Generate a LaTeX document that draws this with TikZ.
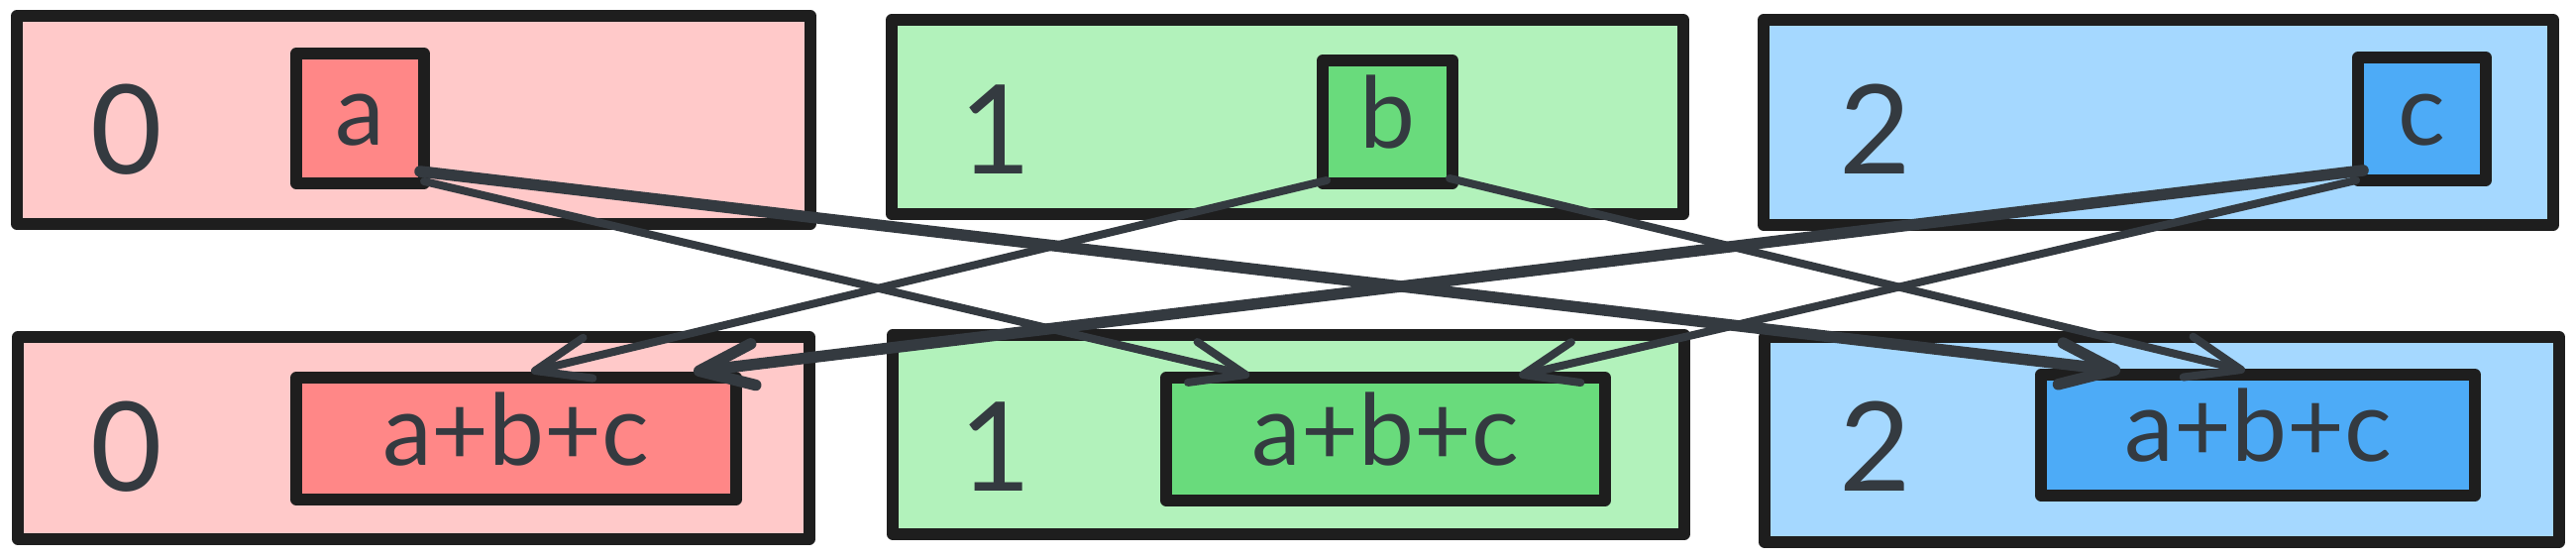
\documentclass[tikz,border=0pt]{standalone}
\usepackage{fontspec}
\setmainfont{Lato}
\usetikzlibrary{arrows.meta,calc}
\definecolor{strk}{HTML}{1E1E1E}
\definecolor{ink}{HTML}{343A40}
\definecolor{redL}{HTML}{FFC9C9}
\definecolor{redD}{HTML}{FF8787}
\definecolor{grnL}{HTML}{B2F2BB}
\definecolor{grnD}{HTML}{69DB7C}
\definecolor{bluL}{HTML}{A5D8FF}
\definecolor{bluD}{HTML}{4DABF7}
\begin{document}
\begin{tikzpicture}[x=0.1pt,y=-0.1pt,
  box/.style={draw=strk, line width=1.15pt, line join=round, rectangle, inner sep=0pt, outer sep=0pt},
  valbox/.style={box, text=ink, font=\fontsize{10pt}{12pt}\selectfont, text height=7.2pt, text depth=1.8pt},
  digit/.style={text=ink, font=\fontsize{12.5pt}{14pt}\selectfont, anchor=base, inner sep=0pt},
  arr/.style={draw=ink, line width=0.8pt, line cap=round, -{Straight Barb[length=5.5pt,width=4.2pt,round]}},
  arrthick/.style={arr, line width=1.15pt}]
\useasboundingbox (0,0) rectangle (2600,564);
% outer boxes
\node[box, fill=redL, minimum width=80.1pt, minimum height=21pt] (o0t) at (417.5,121) {};
\node[box, fill=grnL, minimum width=79.9pt, minimum height=19.6pt] (o1t) at (1299.5,118) {};
\node[box, fill=bluL, minimum width=79.7pt, minimum height=20.7pt] (o2t) at (2178.5,123.5) {};
\node[box, fill=redL, minimum width=79.9pt, minimum height=20.4pt] (o0b) at (417.5,442) {};
\node[box, fill=grnL, minimum width=79.9pt, minimum height=20.1pt] (o1b) at (1300.5,438.5) {};
\node[box, fill=bluL, minimum width=80.2pt, minimum height=20.7pt] (o2b) at (2182,443.5) {};
% digits
\node[digit] (d0t) at (128,176) {0};
\node[digit] (d1t) at (1005,176) {1};
\node[digit] (d2t) at (1893,176) {2};
\node[digit] (d0b) at (128,496) {0};
\node[digit] (d1b) at (1005,496) {1};
\node[digit] (d2b) at (1893,496) {2};
% inner boxes
\node[valbox, fill=redD, minimum width=12.9pt, minimum height=13.1pt] (a) at (363.5,119.5) {a};
\node[valbox, fill=grnD, minimum width=13.1pt, minimum height=12.4pt] (b) at (1400.5,123) {b};
\node[valbox, fill=bluD, minimum width=12.9pt, minimum height=12.4pt] (c) at (2444.5,120) {c};
\node[valbox, fill=redD, minimum width=44.4pt, minimum height=12.3pt] (sum0) at (521,442.5) {a+b+c};
\node[valbox, fill=grnD, minimum width=44.3pt, minimum height=12.4pt] (sum1) at (1398.5,443) {a+b+c};
\node[valbox, fill=bluD, minimum width=43.8pt, minimum height=12.2pt] (sum2) at (2279,439) {a+b+c};
% arrows
\draw[arrthick] ([xshift=-0.4pt,yshift=1.2pt]a.south east) -- ($(sum2.north west)!0.183!(sum2.north east)+(0,-4)$);
\draw[arr] ([yshift=0.2pt]a.south east) -- ($(sum1.north west)!0.19!(sum1.north east)+(0,-2)$);
\draw[arr] ([xshift=0.4pt,yshift=0.3pt]b.south west) -- ($(sum0.north west)!0.534!(sum0.north east)+(0,-6)$);
\draw[arr] ([xshift=-0.3pt,yshift=0.5pt]b.south east) -- ($(sum2.north west)!0.47!(sum2.north east)+(0,-4)$);
\draw[arrthick] ([xshift=0.5pt,yshift=1pt]c.south west) -- ($(sum0.north west)!0.903!(sum0.north east)+(0,-6)$);
\draw[arr] ([xshift=-0.2pt]c.south west) -- ($(sum1.north west)!0.804!(sum1.north east)+(0,-2)$);
\end{tikzpicture}
\end{document}
